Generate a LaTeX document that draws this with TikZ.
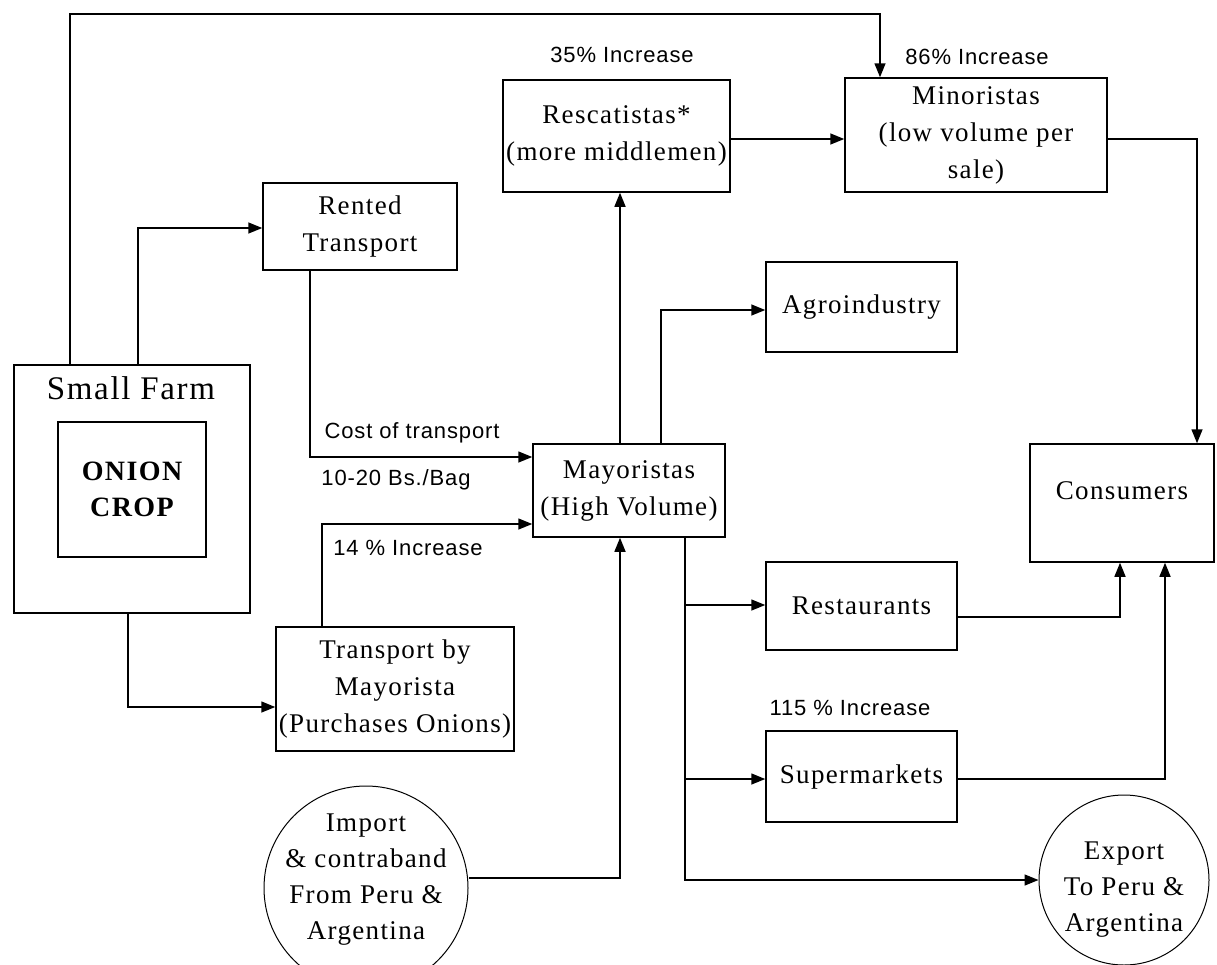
\documentclass[tikz,border=0pt]{standalone}
\usepackage{fontspec}
\setmainfont{Liberation Serif}[LetterSpace=5]
\setsansfont{Liberation Sans}[LetterSpace=4]
\usetikzlibrary{arrows.meta}
\begin{document}
\begin{tikzpicture}[x=1pt,y=-1pt,
 box/.style={draw, line width=1.5pt, inner sep=0pt, align=center, font=\fontsize{27}{37}\selectfont},
 bubble/.style={draw, circle, line width=1pt, inner sep=0pt},
 btext/.style={inner sep=0pt, align=center, font=\fontsize{27}{36}\selectfont},
 conn/.style={line width=1.5pt},
 arr/.style={conn, -{Triangle[length=14pt,width=11pt]}},
 lbl/.style={font=\sffamily\fontsize{22}{26}\selectfont, inner sep=0pt}]
\useasboundingbox (0,0) rectangle (1217,964);

% boxes
\node[box, minimum width=236pt, minimum height=248pt] (farm) at (132,489) {};
\node[inner sep=0pt, font=\fontsize{33}{36}\selectfont] (farmlbl) at (131,388) {Small Farm};
\node[box, minimum width=148pt, minimum height=135pt, font=\bfseries\fontsize{28}{36}\selectfont] (crop) at (132,489.5) {ONION\\CROP};
\node[box, minimum width=194pt, minimum height=87pt] (rent) at (360,226.5) {Rented\\Transport};
\node[box, minimum width=238pt, minimum height=124pt] (tbm) at (395,689) {Transport by\\Mayorista\\(Purchases Onions)};
\node[box, minimum width=192pt, minimum height=93pt] (mayo) at (629,490.5) {Mayoristas\\(High Volume)};
\node[box, minimum width=227pt, minimum height=112pt] (resc) at (616.5,136) {Rescatistas*\\(more middlemen)};
\node[box, minimum width=262pt, minimum height=114pt] (mino) at (976,135) {Minoristas\\(low volume per\\sale)};
\node[box, minimum width=191pt, minimum height=90pt] (agro) at (861.5,307) {Agroindustry};
\node[box, minimum width=191pt, minimum height=88pt] (rest) at (861.5,606) {Restaurants};
\node[box, minimum width=191pt, minimum height=91pt] (super) at (861.5,776.5) {Supermarkets};
\node[box, minimum width=184pt, minimum height=118pt, text depth=24pt] (cons) at (1122,503) {Consumers};

% circles
\node[bubble, minimum size=204pt] (imp) at (366,888) {};
\node[btext] (imptxt) at (366,880) {Import\\\& contraband\\From Peru \&\\Argentina};
\node[bubble, minimum size=170pt] (exp) at (1124,880) {};
\node[btext] (exptxt) at (1124,890) {Export\\To Peru \&\\Argentina};

% labels
\node[lbl] (l35) at (622,55) {35\% Increase};
\node[lbl] (l86) at (977,57) {86\% Increase};
\node[lbl] (lcost) at (412,433) {Cost of transport};
\node[lbl] (lbag) at (396,480) {10-20 Bs./Bag};
\node[lbl] (l14) at (408,548) {14 \% Increase};
\node[lbl] (l115) at (850,708) {115 \% Increase};

% connectors
\coordinate (b1) at (70,14); \coordinate (b2) at (880,14);
\draw[arr] (farm.north -| b1) -- (b1) -- (b2) -- (mino.north -| b2);
\coordinate (b3) at (138,228);
\draw[arr] (farm.north -| b3) -- (b3) -- (rent.west |- b3);
\coordinate (b4) at (128,707);
\draw[arr] (farm.south -| b4) -- (b4) -- (tbm.west |- b4);
\coordinate (b5) at (310,457);
\draw[arr] (rent.south -| b5) -- (b5) -- (mayo.west |- b5);
\coordinate (b6) at (322,524);
\draw[arr] (tbm.north -| b6) -- (b6) -- (mayo.west |- b6);
\coordinate (b7) at (620,300);
\draw[arr] (mayo.north -| b7) -- (resc.south -| b7);
\coordinate (b8) at (661,310);
\draw[arr] (mayo.north -| b8) -- (b8) -- (agro.west |- b8);
\coordinate (b9) at (780,139);
\draw[arr] (resc.east |- b9) -- (mino.west |- b9);
\coordinate (b10) at (1197,139);
\draw[arr] (mino.east |- b10) -- (b10) -- (cons.north -| b10);
\coordinate (b11) at (685,880);
\draw[arr] (mayo.south -| b11) -- (b11) -- (exp.west |- b11);
\coordinate (b12) at (685,605);
\draw[arr] (b12) -- (rest.west |- b12);
\coordinate (b13) at (685,779);
\draw[arr] (b13) -- (super.west |- b13);
\coordinate (b14) at (1120,617);
\draw[arr] (rest.east |- b14) -- (b14) -- (cons.south -| b14);
\coordinate (b15) at (1165,779);
\draw[arr] (super.east |- b15) -- (b15) -- (cons.south -| b15);
\coordinate (b16) at (620,878);
\draw[arr] (imp.east |- b16) -- (b16) -- (mayo.south -| b16);
\end{tikzpicture}
\end{document}
